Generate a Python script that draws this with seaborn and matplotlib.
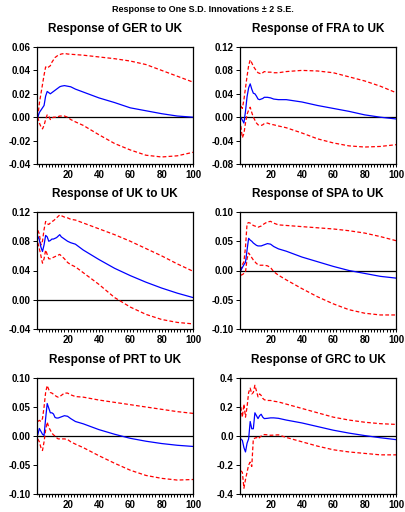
import numpy as np
import pandas as pd
import matplotlib
matplotlib.use("Agg")
import matplotlib.pyplot as plt
import seaborn as sns
from matplotlib.ticker import MultipleLocator, FormatStrFormatter

H = [1, 2, 3, 4, 5, 6, 7, 8, 9, 10, 11, 12, 13, 14, 15, 16, 18, 20, 22, 25,
     30, 40, 50, 60, 70, 80, 90, 100]

titles = ["Response of GER to UK", "Response of FRA to UK",
          "Response of UK to UK", "Response of SPA to UK",
          "Response of PRT to UK", "Response of GRC to UK"]

ger_irf = [0.000, 0.004, 0.006, 0.008, 0.010, 0.018, 0.022, 0.021, 0.020, 0.021, 0.022, 0.023, 0.024, 0.025,
           0.026, 0.0265, 0.027, 0.0265, 0.026, 0.024, 0.0215, 0.0165, 0.0125, 0.008, 0.0055, 0.003, 0.001, 0.000]
ger_hi = [0.000, 0.012, 0.020, 0.028, 0.036, 0.043, 0.042, 0.043, 0.044, 0.047, 0.049, 0.051, 0.052, 0.053,
          0.0535, 0.054, 0.0545, 0.054, 0.0538, 0.0535, 0.053, 0.0515, 0.050, 0.048, 0.045, 0.040, 0.035, 0.030]
ger_lo = [0.000, -0.005, -0.008, -0.010, -0.007, -0.002, 0.002, 0.001, -0.002, -0.001, 0.000, 0.000, 0.000, 0.0005,
          0.001, 0.001, 0.001, 0.000, -0.002, -0.004, -0.007, -0.015, -0.0225, -0.028, -0.0325, -0.034, -0.033, -0.030]

fra_irf = [0.000, -0.005, -0.010, 0.010, 0.035, 0.050, 0.057, 0.048, 0.041, 0.040, 0.036, 0.031, 0.030, 0.031,
           0.032, 0.034, 0.034, 0.033, 0.031, 0.030, 0.030, 0.026, 0.020, 0.015, 0.010, 0.004, 0.000, -0.003]
fra_hi = [0.019, 0.015, 0.030, 0.050, 0.070, 0.088, 0.098, 0.093, 0.087, 0.083, 0.079, 0.076, 0.075, 0.074,
          0.076, 0.078, 0.077, 0.077, 0.076, 0.076, 0.078, 0.080, 0.079, 0.076, 0.069, 0.062, 0.053, 0.042]
fra_lo = [-0.015, -0.035, -0.028, -0.010, 0.005, 0.012, 0.017, 0.008, 0.000, -0.005, -0.010, -0.013, -0.014, -0.014,
          -0.013, -0.011, -0.010, -0.012, -0.013, -0.015, -0.018, -0.027, -0.037, -0.044, -0.049, -0.051, -0.050, -0.047]

uk_irf = [0.087, 0.082, 0.072, 0.066, 0.075, 0.088, 0.086, 0.080, 0.081, 0.083, 0.083, 0.084, 0.085, 0.087,
          0.089, 0.086, 0.083, 0.080, 0.078, 0.076, 0.068, 0.055, 0.043, 0.033, 0.024, 0.016, 0.009, 0.003]
uk_hi = [0.095, 0.090, 0.075, 0.080, 0.096, 0.107, 0.104, 0.103, 0.105, 0.107, 0.108, 0.110, 0.112, 0.114,
         0.116, 0.115, 0.113, 0.112, 0.110, 0.109, 0.105, 0.097, 0.089, 0.080, 0.070, 0.060, 0.049, 0.039]
uk_lo = [0.078, 0.070, 0.060, 0.050, 0.056, 0.068, 0.062, 0.056, 0.056, 0.057, 0.058, 0.059, 0.060, 0.061,
         0.062, 0.060, 0.056, 0.051, 0.048, 0.045, 0.037, 0.021, 0.003, -0.010, -0.020, -0.027, -0.031, -0.033]

spa_irf = [0.000, 0.005, 0.010, 0.014, 0.035, 0.055, 0.052, 0.050, 0.047, 0.045, 0.043, 0.042, 0.042, 0.042,
           0.043, 0.044, 0.046, 0.045, 0.041, 0.037, 0.033, 0.023, 0.015, 0.007, 0.000, -0.005, -0.010, -0.013]
spa_hi = [0.000, 0.010, 0.015, 0.040, 0.080, 0.082, 0.081, 0.079, 0.077, 0.076, 0.075, 0.074, 0.075, 0.076,
          0.078, 0.080, 0.083, 0.084, 0.081, 0.078, 0.077, 0.075, 0.073, 0.071, 0.068, 0.064, 0.058, 0.051]
spa_lo = [-0.008, -0.007, -0.005, -0.003, 0.020, 0.030, 0.026, 0.022, 0.018, 0.015, 0.012, 0.010, 0.009, 0.009,
          0.009, 0.009, 0.008, 0.005, -0.002, -0.008, -0.016, -0.031, -0.045, -0.057, -0.067, -0.073, -0.076, -0.076]

prt_irf = [0.002, 0.013, 0.008, 0.003, 0.001, 0.030, 0.056, 0.048, 0.040, 0.040, 0.038, 0.032, 0.031, 0.031,
           0.032, 0.033, 0.035, 0.034, 0.030, 0.025, 0.021, 0.011, 0.003, -0.004, -0.009, -0.013, -0.016, -0.018]
prt_hi = [0.025, 0.027, 0.025, 0.030, 0.050, 0.075, 0.087, 0.080, 0.075, 0.074, 0.072, 0.070, 0.068, 0.067,
          0.068, 0.070, 0.074, 0.074, 0.071, 0.068, 0.067, 0.062, 0.058, 0.054, 0.050, 0.046, 0.042, 0.039]
prt_lo = [-0.005, -0.010, -0.020, -0.025, -0.010, 0.010, 0.024, 0.015, 0.010, 0.005, 0.002, 0.000, -0.003, -0.005,
          -0.005, -0.005, -0.005, -0.006, -0.010, -0.014, -0.020, -0.034, -0.047, -0.059, -0.068, -0.073, -0.076, -0.075]

grc_irf = [-0.02, -0.03, -0.08, -0.11, -0.05, -0.02, 0.10, 0.05, 0.05, 0.16, 0.14, 0.12, 0.14, 0.15,
           0.13, 0.12, 0.122, 0.125, 0.125, 0.122, 0.11, 0.090, 0.065, 0.040, 0.020, 0.003, -0.012, -0.025]
grc_hi = [0.20, 0.13, 0.22, 0.13, 0.20, 0.30, 0.33, 0.29, 0.30, 0.35, 0.31, 0.27, 0.29, 0.28,
          0.26, 0.25, 0.245, 0.245, 0.24, 0.235, 0.22, 0.19, 0.16, 0.13, 0.11, 0.095, 0.085, 0.080]
grc_lo = [-0.24, -0.25, -0.36, -0.30, -0.25, -0.20, -0.18, -0.21, -0.02, -0.015, -0.01, -0.02, -0.01, 0.00,
          0.005, 0.01, 0.008, 0.005, 0.006, 0.008, -0.01, -0.04, -0.07, -0.095, -0.11, -0.12, -0.13, -0.13]

series = [(ger_irf, ger_hi, ger_lo), (fra_irf, fra_hi, fra_lo), (uk_irf, uk_hi, uk_lo),
          (spa_irf, spa_hi, spa_lo), (prt_irf, prt_hi, prt_lo), (grc_irf, grc_hi, grc_lo)]

# y-axis setup per panel: (min, max, step, format)
yaxes = [(-0.04, 0.06, 0.02, "%.2f"), (-0.08, 0.12, 0.04, "%.2f"),
         (-0.04, 0.12, 0.04, "%.2f"), (-0.10, 0.10, 0.05, "%.2f"),
         (-0.10, 0.10, 0.05, "%.2f"), (-0.4, 0.4, 0.2, "%.1f")]

sns.set_style("ticks")
plt.rcParams["font.family"] = ["Liberation Sans", "DejaVu Sans"]
plt.rcParams["font.weight"] = "bold"
plt.rcParams["text.color"] = "black"
plt.rcParams["axes.labelcolor"] = "black"
plt.rcParams["xtick.color"] = "black"
plt.rcParams["ytick.color"] = "black"

fig = plt.figure(figsize=(4.06, 5.12), dpi=100)
W, Hpx = 406, 512
lefts = [37, 240]
rows = [(47, 164), (212, 329), (378, 494)]

for i, (title, (irf, hi, lo), (ymin, ymax, step, fmt)) in enumerate(zip(titles, series, yaxes)):
    r, c = divmod(i, 2)
    top, bot = rows[r]
    ax = fig.add_axes([lefts[c] / W, 1 - bot / Hpx, 156 / W, (bot - top) / Hpx])
    df = pd.DataFrame({"h": H, "irf": irf, "hi": hi, "lo": lo})
    ax.axhline(0, color="black", lw=0.9, zorder=1)
    sns.lineplot(data=df, x="h", y="hi", ax=ax, color="red", lw=0.9)
    sns.lineplot(data=df, x="h", y="lo", ax=ax, color="red", lw=0.9)
    for ln in ax.lines[1:]:
        ln.set_dashes([3, 1.8])
    sns.lineplot(data=df, x="h", y="irf", ax=ax, color="blue", lw=0.9)
    ax.set_xlim(0.5, 100)
    ax.set_ylim(ymin, ymax)
    ax.xaxis.set_major_locator(MultipleLocator(20))
    ax.xaxis.set_minor_locator(MultipleLocator(2))
    ax.yaxis.set_major_locator(MultipleLocator(step))
    ax.yaxis.set_major_formatter(FormatStrFormatter(fmt))
    ax.tick_params(axis="both", which="both", direction="out", length=2.5, width=0.7,
                   labelsize=7, pad=1.5, colors="black")
    ax.tick_params(axis="y", length=3)
    for lab in ax.get_xticklabels() + ax.get_yticklabels():
        lab.set_fontweight("bold")
    ax.set_xlabel("")
    ax.set_ylabel("")
    for sp in ax.spines.values():
        sp.set_visible(True)
        sp.set_color("black")
        sp.set_linewidth(0.9)
    ax.set_title(title, fontsize=8.5, fontweight="bold", pad=11, color="black")

fig.text(0.5, 1 - 10 / Hpx, "Response to One S.D. Innovations \u00b1 2 S.E.",
         ha="center", va="center", fontsize=6.5, fontweight="bold", color="black")

fig.savefig("out.png", dpi=100)
